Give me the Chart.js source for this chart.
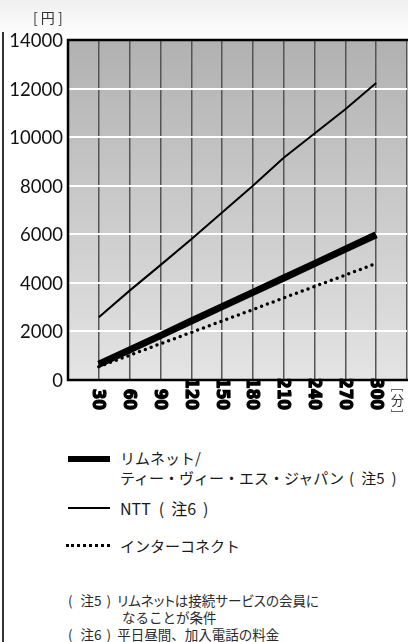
<!DOCTYPE html>
<html>
<head>
<meta charset="utf-8">
<script src="https://cdn.jsdelivr.net/npm/chart.js@4.4.1/dist/chart.umd.min.js"></script>
<style>
    html, body { margin: 0; padding: 0; }
    body {
        width: 408px;
        height: 642px;
        overflow: hidden;
        background: linear-gradient(#efefef 0px, #ffffff 38px);
        font-family: "Noto Sans CJK JP", "Noto Sans", sans-serif;
        color: #1a1a1a;
        position: relative;
    }
    #frame-left {
        position: absolute; left: 2px; top: 32px; width: 1.5px; height: 610px; background: #333;
    }
    #chart-box { position: absolute; left: 0; top: 0; width: 408px; height: 430px; }
    .legend-row { position: absolute; left: 68px; font-size: 15px; line-height: 20px; }
    .swatch { position: absolute; left: 0; width: 42px; }
    .legend-text { position: absolute; left: 52px; white-space: nowrap; }
    .palt { font-feature-settings: "palt"; }
    .note { position: absolute; left: 68px; font-size: 13.5px; line-height: 17px; white-space: nowrap; color: #2a2a2a; }
    .gap { display: inline-block; }
</style>
</head>
<body>
<div id="frame-left"></div>
<div id="chart-box"><canvas id="rate-chart"></canvas></div>

<div class="legend-row" style="top:448px;">
    <div class="swatch" style="top:8px;height:6px;background:#000;"></div>
    <div class="legend-text">リムネット/<br>ティー・ヴィー・エス・ジャパン<span class="gap" style="width:5px"></span>(<span class="gap" style="width:7px"></span>注5<span class="gap" style="width:7px"></span>)</div>
</div>
<div class="legend-row" style="top:498px;">
    <div class="swatch" style="top:9px;height:2px;background:#000;"></div>
    <div class="legend-text" style="font-size:16px;">NTT<span class="gap" style="width:8px"></span>(<span class="gap" style="width:7px"></span>注6<span class="gap" style="width:7px"></span>)</div>
</div>
<div class="legend-row" style="top:536px;">
    <div class="swatch" style="top:8px;left:-2px;width:44px;height:0;border-top:3px dotted #000;"></div>
    <div class="legend-text">インターコネクト</div>
</div>

<div class="note" style="top:592px;">(<span class="gap" style="width:8px"></span>注5<span class="gap" style="width:5px"></span>)<span class="gap" style="width:6px"></span><span class="palt">リムネットは接続サービスの会員に</span></div>
<div class="note" style="top:609px;left:122px;">なることが条件</div>
<div class="note" style="top:626px;">(<span class="gap" style="width:8px"></span>注6<span class="gap" style="width:5px"></span>)<span class="gap" style="width:6px"></span>平日昼間、加入電話の料金</div>

<script>
"use strict";

// minutes of connection
const minutes = [30, 60, 90, 120, 150, 180, 210, 240, 270, 300];

// yen
const rimnet = [650, 1240, 1830, 2430, 3020, 3610, 4200, 4790, 5390, 5980];
const ntt = [2580, 3680, 4730, 5800, 6900, 8000, 9150, 10150, 11150, 12230];
const interconnect = [550, 1020, 1490, 1960, 2430, 2900, 3380, 3850, 4320, 4800];

const yTicks = [0, 2000, 4000, 6000, 8000, 10000, 12000, 14000];
const xTicks = [30, 60, 90, 120, 150, 180, 210, 240, 270, 300];

const toPoints = (values) => minutes.map((m, i) => ({ x: m, y: values[i] }));

/**
 * Plot background, frame and hand placed tick labels
 */
const decorPlugin = {
    id: 'decor',
    beforeDraw(chart) {
        const { ctx, chartArea: a } = chart;
        const grad = ctx.createLinearGradient(0, a.top, 0, a.bottom);
        grad.addColorStop(0, '#b1b1b1');
        grad.addColorStop(1, '#e4e4e4');
        ctx.save();
        ctx.fillStyle = grad;
        ctx.fillRect(a.left, a.top, a.right - a.left, a.bottom - a.top);
        ctx.restore();
    },
    afterDraw(chart) {
        const { ctx, chartArea: a } = chart;
        const xs = chart.scales.x;
        const ys = chart.scales.y;

        ctx.save();
        // frame
        ctx.strokeStyle = '#000';
        ctx.lineWidth = 2.5;
        ctx.beginPath();
        ctx.moveTo(a.right + 2, a.top);
        ctx.lineTo(a.left, a.top);
        ctx.lineTo(a.left, a.bottom);
        ctx.lineTo(a.right + 2, a.bottom);
        ctx.stroke();

        // y labels
        ctx.fillStyle = '#111';
        ctx.font = '18.5px Lato, sans-serif';
        ctx.textAlign = 'right';
        ctx.textBaseline = 'middle';
        yTicks.forEach(v => ctx.fillText(String(v), a.left - 5, ys.getPixelForValue(v) + 1));

        // unit
        ctx.font = '14px "Noto Sans CJK JP", sans-serif';
        ctx.fillStyle = '#333';
        ctx.textAlign = 'left';
        ctx.fillText('[ 円 ]', 33, 18);

        // x labels, rotated clockwise
        ctx.fillStyle = '#000';
        ctx.strokeStyle = '#000';
        ctx.lineWidth = 1.2;
        ctx.lineJoin = 'round';
        ctx.font = 'bold 17px "Liberation Sans Narrow", "DejaVu Sans Condensed", sans-serif';
        xTicks.forEach(v => {
            ctx.save();
            ctx.translate(xs.getPixelForValue(v) - 1, 410);
            ctx.rotate(Math.PI / 2);
            ctx.textAlign = 'right';
            ctx.textBaseline = 'middle';
            ctx.fillText(String(v), 0, 0);
            ctx.strokeText(String(v), 0, 0);
            ctx.restore();
        });

        // minute unit
        const ux = xs.getPixelForValue(315) + 6;
        ctx.font = '13px "Noto Sans CJK JP", sans-serif';
        ctx.fillStyle = '#333';
        ctx.textAlign = 'center';
        ctx.textBaseline = 'middle';
        ctx.save();
        ctx.translate(ux, 390);
        ctx.rotate(Math.PI / 2);
        ctx.fillText('[', 0, 0);
        ctx.restore();
        ctx.fillText('分', ux, 400);
        ctx.save();
        ctx.translate(ux, 411);
        ctx.rotate(Math.PI / 2);
        ctx.fillText(']', 0, 0);
        ctx.restore();
        ctx.restore();
    }
};

new Chart(document.getElementById('rate-chart').getContext('2d'), {
    type: 'line',
    data: {
        datasets: [
            {
                label: 'インターコネクト',
                data: toPoints(interconnect),
                borderColor: '#000',
                borderWidth: 3.5,
                borderDash: [0, 6.2],
                borderCapStyle: 'round',
                pointRadius: 0,
                tension: 0
            },
            {
                label: 'リムネット/ティー・ヴィー・エス・ジャパン（注5）',
                data: toPoints(rimnet),
                borderColor: '#000',
                borderWidth: 7,
                borderCapStyle: 'butt',
                pointRadius: 0,
                tension: 0
            },
            {
                label: 'NTT（注6）',
                data: toPoints(ntt),
                borderColor: '#000',
                borderWidth: 2,
                pointRadius: 0,
                tension: 0
            }
        ]
    },
    options: {
        responsive: true,
        maintainAspectRatio: false,
        animation: false,
        layout: { padding: { left: 68, top: 40, right: 1, bottom: 50 } },
        plugins: {
            legend: { display: false },
            tooltip: { enabled: false }
        },
        scales: {
            x: {
                type: 'linear',
                min: 0,
                max: 330,
                ticks: { display: false, stepSize: 30 },
                border: { display: false },
                grid: {
                    drawTicks: false,
                    color: (c) => c.tick && c.tick.value === 0 ? 'rgba(0,0,0,0)' : '#555',
                    lineWidth: 1.5
                }
            },
            y: {
                min: 0,
                max: 14000,
                ticks: { display: false, stepSize: 2000 },
                border: { display: false },
                grid: {
                    drawTicks: false,
                    color: (c) => c.tick && (c.tick.value === 0 || c.tick.value === 14000) ? 'rgba(0,0,0,0)' : '#ffffff',
                    lineWidth: 2
                }
            }
        }
    },
    plugins: [decorPlugin]
});
</script>
</body>
</html>
